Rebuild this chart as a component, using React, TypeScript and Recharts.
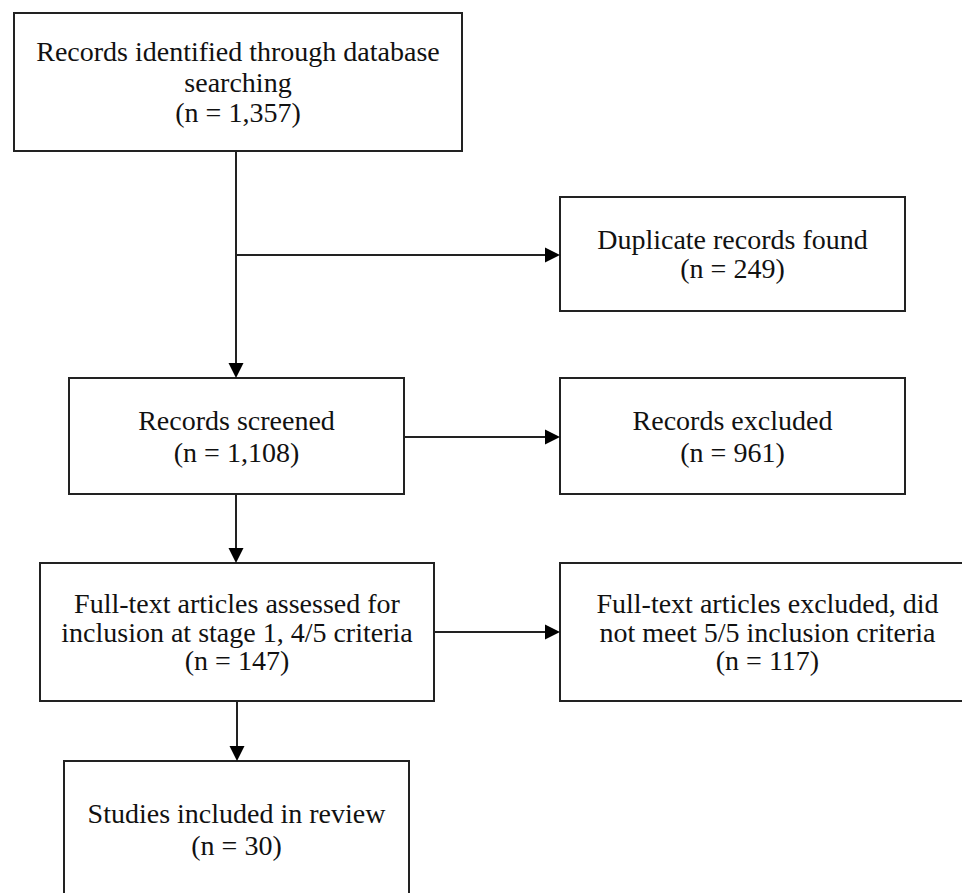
import { ComposedChart, XAxis, YAxis, ReferenceArea, ReferenceLine } from 'recharts'

// PRISMA flow: text and counts for each stage
const stageTitles = [
  ['Records identified through database', 'searching'],
  ['Duplicate records found'],
  ['Records screened'],
  ['Records excluded'],
  ['Full-text articles assessed for', 'inclusion at stage 1, 4/5 criteria'],
  ['Full-text articles excluded, did', 'not meet 5/5 inclusion criteria'],
  ['Studies included in review'],
]
const stageCounts = [1357, 249, 1108, 961, 147, 117, 30]

// box layout in chart units (x to the right, y downward)
const boxX1 = [14, 560, 69, 560, 40, 560, 64]
const boxX2 = [462, 905, 404, 905, 434, 975, 409]
const boxY1 = [13, 197, 378, 378, 563, 563, 761]
const boxY2 = [151, 311, 494, 494, 701, 701, 910]
const lineGap = [30.5, 29, 32, 32, 28.5, 28.5, 32]
const textTop = [null, null, null, null, null, null, 68]

// arrows: [from, to] points
const arrows: [number, number, number, number][] = [
  [236, 151, 236, 378],
  [236, 255, 560, 255],
  [404, 437, 560, 437],
  [236, 494, 236, 563],
  [434, 632, 560, 632],
  [237, 701, 237, 761],
]

const W = 962
const H = 893
const FONT = '"Liberation Serif", "Times New Roman", serif'
const INK = '#222'

function BoxText(props: any) {
  const { viewBox, lines, gap, top } = props
  const { x, y, width, height } = viewBox
  const cx = x + width / 2
  const cy = top != null ? y + top : y + height / 2
  const start = cy - ((lines.length - 1) * gap) / 2
  return (
    <text textAnchor="middle" fontFamily={FONT} fontSize={28} fill="#111">
      {lines.map((l: string, i: number) => (
        <tspan key={i} x={cx} y={start + i * gap} dy="0.35em">
          {l}
        </tspan>
      ))}
    </text>
  )
}

function Arrow(props: any) {
  const { x1, y1, x2, y2 } = props
  const dx = x2 - x1
  const dy = y2 - y1
  const len = Math.sqrt(dx * dx + dy * dy) || 1
  const ux = dx / len
  const uy = dy / len
  const headLen = 15
  const headHalf = 7.5
  const bx = x2 - ux * headLen
  const by = y2 - uy * headLen
  const px = -uy * headHalf
  const py = ux * headHalf
  return (
    <g>
      <line x1={x1} y1={y1} x2={bx} y2={by} stroke={INK} strokeWidth={2} />
      <polygon
        points={`${x2},${y2} ${bx + px},${by + py} ${bx - px},${by - py}`}
        fill="#000"
      />
    </g>
  )
}

export default function App() {
  return (
    <div style={{ position: 'absolute', left: 0, top: 0, width: W, height: H, background: '#fff' }}>
      <ComposedChart width={W} height={H} data={[]} margin={{ top: 0, right: 0, bottom: 0, left: 0 }}>
        <XAxis type="number" dataKey="x" domain={[0, W]} allowDataOverflow hide />
        <YAxis type="number" dataKey="y" domain={[0, H]} allowDataOverflow reversed hide />
        {arrows.map((a, i) => (
          <ReferenceLine
            key={'a' + i}
            segment={[
              { x: a[0], y: a[1] },
              { x: a[2], y: a[3] },
            ]}
            ifOverflow="visible"
            shape={(p: any) => <Arrow {...p} />}
          />
        ))}
        {stageTitles.map((t, i) => (
          <ReferenceArea
            key={'b' + i}
            x1={boxX1[i]}
            x2={boxX2[i]}
            y1={boxY1[i]}
            y2={boxY2[i]}
            ifOverflow="hidden"
            fill="#fff"
            fillOpacity={1}
            stroke={INK}
            strokeWidth={2}
            label={(p: any) => (
              <BoxText
                viewBox={p.viewBox}
                lines={[...t, `(n = ${stageCounts[i].toLocaleString('en-US')})`]}
                gap={lineGap[i]}
                top={textTop[i]}
              />
            )}
          />
        ))}
      </ComposedChart>
    </div>
  )
}
